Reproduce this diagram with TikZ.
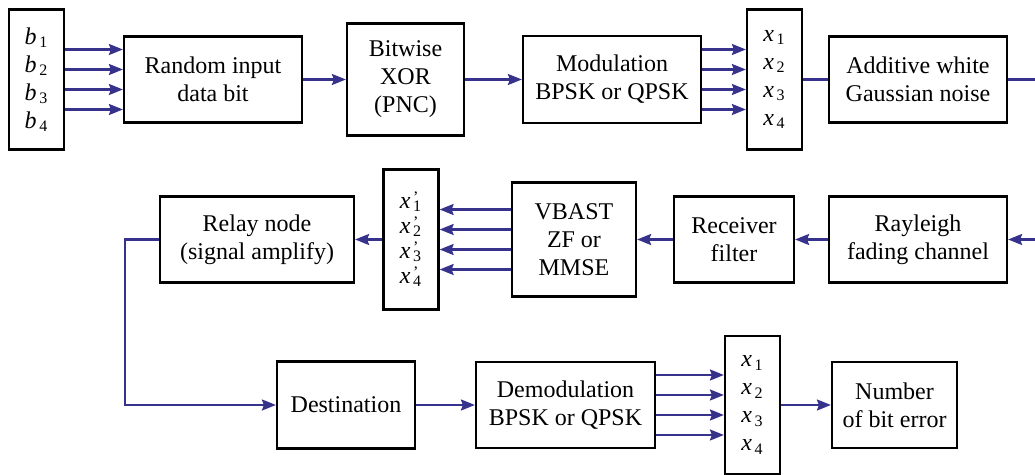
\documentclass[tikz,border=0pt]{standalone}
\usepackage{fontspec}
\setmainfont{Liberation Serif}
\usetikzlibrary{arrows.meta}
\definecolor{sigblue}{RGB}{55,50,140}
\newcommand{\bitsub}[2]{\textit{#1}\textsubscript{\,#2}}
\newcommand{\bitsubp}[2]{\textit{#1}\rlap{\raisebox{-1.5pt}{\textsuperscript{\,\textquoteright}}}\textsubscript{\,#2}}

\begin{document}
\begin{tikzpicture}[x=0.5pt, y=-0.5pt,
    blk/.style={draw, line width=1.1pt, align=center, inner sep=0pt, font=\fontsize{12}{14}\selectfont},
    stack/.style={blk, minimum width=27.5pt, minimum height=70pt},
    sig/.style={draw=sigblue, line width=1.05pt, -{Stealth[length=7pt,width=5.5pt,inset=1pt]}},
    wire/.style={draw=sigblue, line width=1.05pt}]
    \useasboundingbox (0,0) rectangle (1035,475);
    \draw
    (36.5,79.5)node(bits)[stack]{\bitsub{b}{1}\\\bitsub{b}{2}\\\bitsub{b}{3}\\\bitsub{b}{4}}
    (213,79.5)node(rand)[blk, minimum width=89pt, minimum height=43pt]{Random input\\data bit}
    (405.5,79.5)node(xor)[blk, minimum width=58.5pt, minimum height=56pt]{Bitwise\\XOR\\(PNC)}
    (612,79.5)node(mod)[blk, minimum width=89pt, minimum height=43.5pt]{Modulation\\BPSK or QPSK}
    (774.5,79.5)node(xs)[stack]{\bitsub{x}{1}\\\bitsub{x}{2}\\\bitsub{x}{3}\\\bitsub{x}{4}}
    (918,79.5)node(awgn)[blk, minimum width=89pt, minimum height=43pt]{Additive white\\Gaussian noise};
    %
    \draw
    (257,239.5)node(relay)[blk, minimum width=97pt, minimum height=43pt]{Relay node\\(signal amplify)}
    (411,239.5)node(xps)[stack, font=\fontsize{12}{12.5}\selectfont]{\bitsubp{x}{1}\\\bitsubp{x}{2}\\\bitsubp{x}{3}\\\bitsubp{x}{4}}
    (574,239.5)node(vbast)[blk, minimum width=62pt, minimum height=57pt]{VBAST\\ZF or\\MMSE}
    (734,239.5)node(recv)[blk, minimum width=60pt, minimum height=43pt]{Receiver\\filter}
    (918,239.5)node(rayl)[blk, minimum width=89pt, minimum height=43pt]{Rayleigh\\fading channel};
    %
    \draw
    (346,405)node(dest)[blk, minimum width=69pt, minimum height=43.5pt]{Destination}
    (565.5,405)node(demod)[blk, minimum width=89.5pt, minimum height=43pt]{Demodulation\\BPSK or QPSK}
    (752.5,405)node(xd)[stack, minimum height=69pt]{\bitsub{x}{1}\\\bitsub{x}{2}\\\bitsub{x}{3}\\\bitsub{x}{4}}
    (894.5,405)node(nbe)[blk, minimum width=62.5pt, minimum height=43pt]{Number\\of bit error};
    %
    \coordinate (outr) at (1035,79.5);
    \coordinate (inr) at (1035,239.5);
    \coordinate (bend) at (125,239.5);
    %
    \foreach \dy in {-15,-5,5,15}{
        \draw [sig]([yshift=\dy pt]bits.east)--([yshift=\dy pt]rand.west);
        \draw [sig]([yshift=\dy pt]mod.east)--([yshift=\dy pt]xs.west);
        \draw [sig]([yshift=\dy pt]vbast.west)--([yshift=\dy pt]xps.east);
        \draw [sig]([yshift=\dy pt]demod.east)--([yshift=\dy pt]xd.west);
    }
    \draw [sig](rand)--(xor);
    \draw [sig](xor)--(mod);
    \draw [wire](xs)--(awgn);
    \draw [wire](awgn)--(outr);
    \draw [sig](inr)--(rayl);
    \draw [sig](rayl)--(recv);
    \draw [sig](recv)--(vbast);
    \draw [sig](xps)--(relay);
    \draw [sig](relay.west)--(bend)|-(dest.west);
    \draw [sig](dest)--(demod);
    \draw [sig](xd)--(nbe);
\end{tikzpicture}
\end{document}
